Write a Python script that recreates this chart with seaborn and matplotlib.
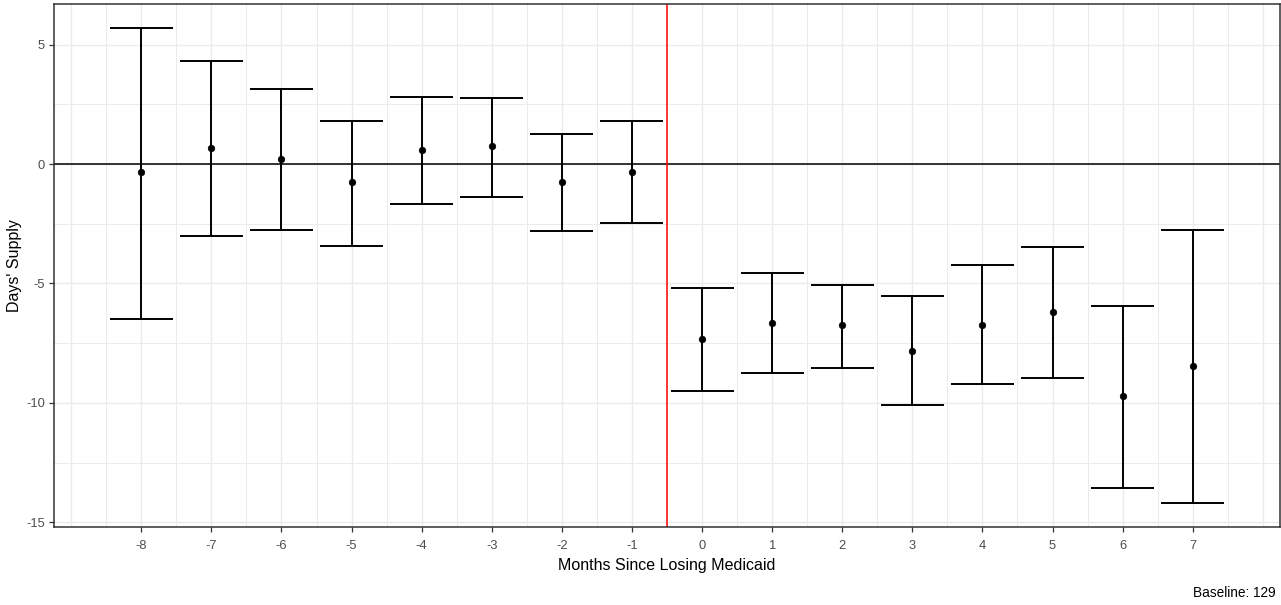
import numpy as np
import pandas as pd
import matplotlib
matplotlib.use("Agg")
import matplotlib.pyplot as plt
import seaborn as sns

# Event-study estimates
months = [-8, -7, -6, -5, -4, -3, -2, -1, 0, 1, 2, 3, 4, 5, 6, 7]
estimate = [-0.34, 0.67, 0.21, -0.75, 0.59, 0.75, -0.74, -0.34,
            -7.34, -6.67, -6.73, -7.83, -6.73, -6.20, -9.73, -8.45]
ci_low = [-6.49, -3.02, -2.76, -3.44, -1.68, -1.40, -2.81, -2.48,
          -9.50, -8.74, -8.53, -10.10, -9.23, -8.94, -13.57, -14.19]
ci_high = [5.70, 4.31, 3.14, 1.80, 2.81, 2.75, 1.26, 1.80,
           -5.21, -4.58, -5.06, -5.54, -4.24, -3.49, -5.96, -2.76]
baseline = 129

df = pd.DataFrame({"month": months, "est": estimate, "lo": ci_low, "hi": ci_high})

sns.set_theme(style="white")
plt.rcParams["font.family"] = ["Liberation Sans", "DejaVu Sans"]
plt.rcParams["axes.unicode_minus"] = False

fig = plt.figure(figsize=(12.81, 6.05), dpi=100)
ax = fig.add_axes([54 / 1281, 78 / 605, 1226 / 1281, 523 / 605])

# ggplot theme_bw-like grid
grid_col = "#EBEBEB"
for xv in np.arange(-9, 8.5, 0.5):
    ax.axvline(xv, color=grid_col, lw=1.0 if xv == int(xv) else 0.7, zorder=0)
for yv in np.arange(-15, 7.5, 2.5):
    ax.axhline(yv, color=grid_col, lw=1.0 if yv % 5 == 0 else 0.7, zorder=0)

ax.axhline(0, color="black", lw=1.1, zorder=1)
ax.axvline(-0.5, color="red", lw=1.1, zorder=1)

half = 0.45
ax.vlines(df["month"], df["lo"], df["hi"], color="black", lw=1.4, zorder=2)
ax.hlines(df["lo"], df["month"] - half, df["month"] + half, color="black", lw=1.4, zorder=2)
ax.hlines(df["hi"], df["month"] - half, df["month"] + half, color="black", lw=1.4, zorder=2)
sns.scatterplot(data=df, x="month", y="est", color="black", s=22, edgecolor="black",
                linewidth=0.5, zorder=3, ax=ax, legend=False)

ax.set_xlim(-9.245, 8.245)
ax.set_ylim(-15.2, 6.7)
ax.set_xticks(months)
ax.set_xticklabels([str(m) for m in months])
ax.set_yticks([-15, -10, -5, 0, 5])

for side in ax.spines.values():
    side.set_color("#333333")
    side.set_linewidth(1.1)

ax.tick_params(axis="both", which="major", direction="out", length=3.5, width=0.9,
               color="#333333", labelcolor="#4D4D4D", labelsize=9.3,
               bottom=True, left=True)
ax.tick_params(axis="x", pad=6)
ax.tick_params(axis="y", pad=3)

ax.set_xlabel("Months Since Losing Medicaid", fontsize=11.5, color="black", labelpad=4.5)
ax.set_ylabel("Days' Supply", fontsize=11.5, color="black", labelpad=3)

fig.text(1276 / 1281, 1 - 593 / 605, f"Baseline: {baseline}", ha="right", va="center",
         fontsize=9.8, color="black")

fig.savefig("out.png", dpi=100)
